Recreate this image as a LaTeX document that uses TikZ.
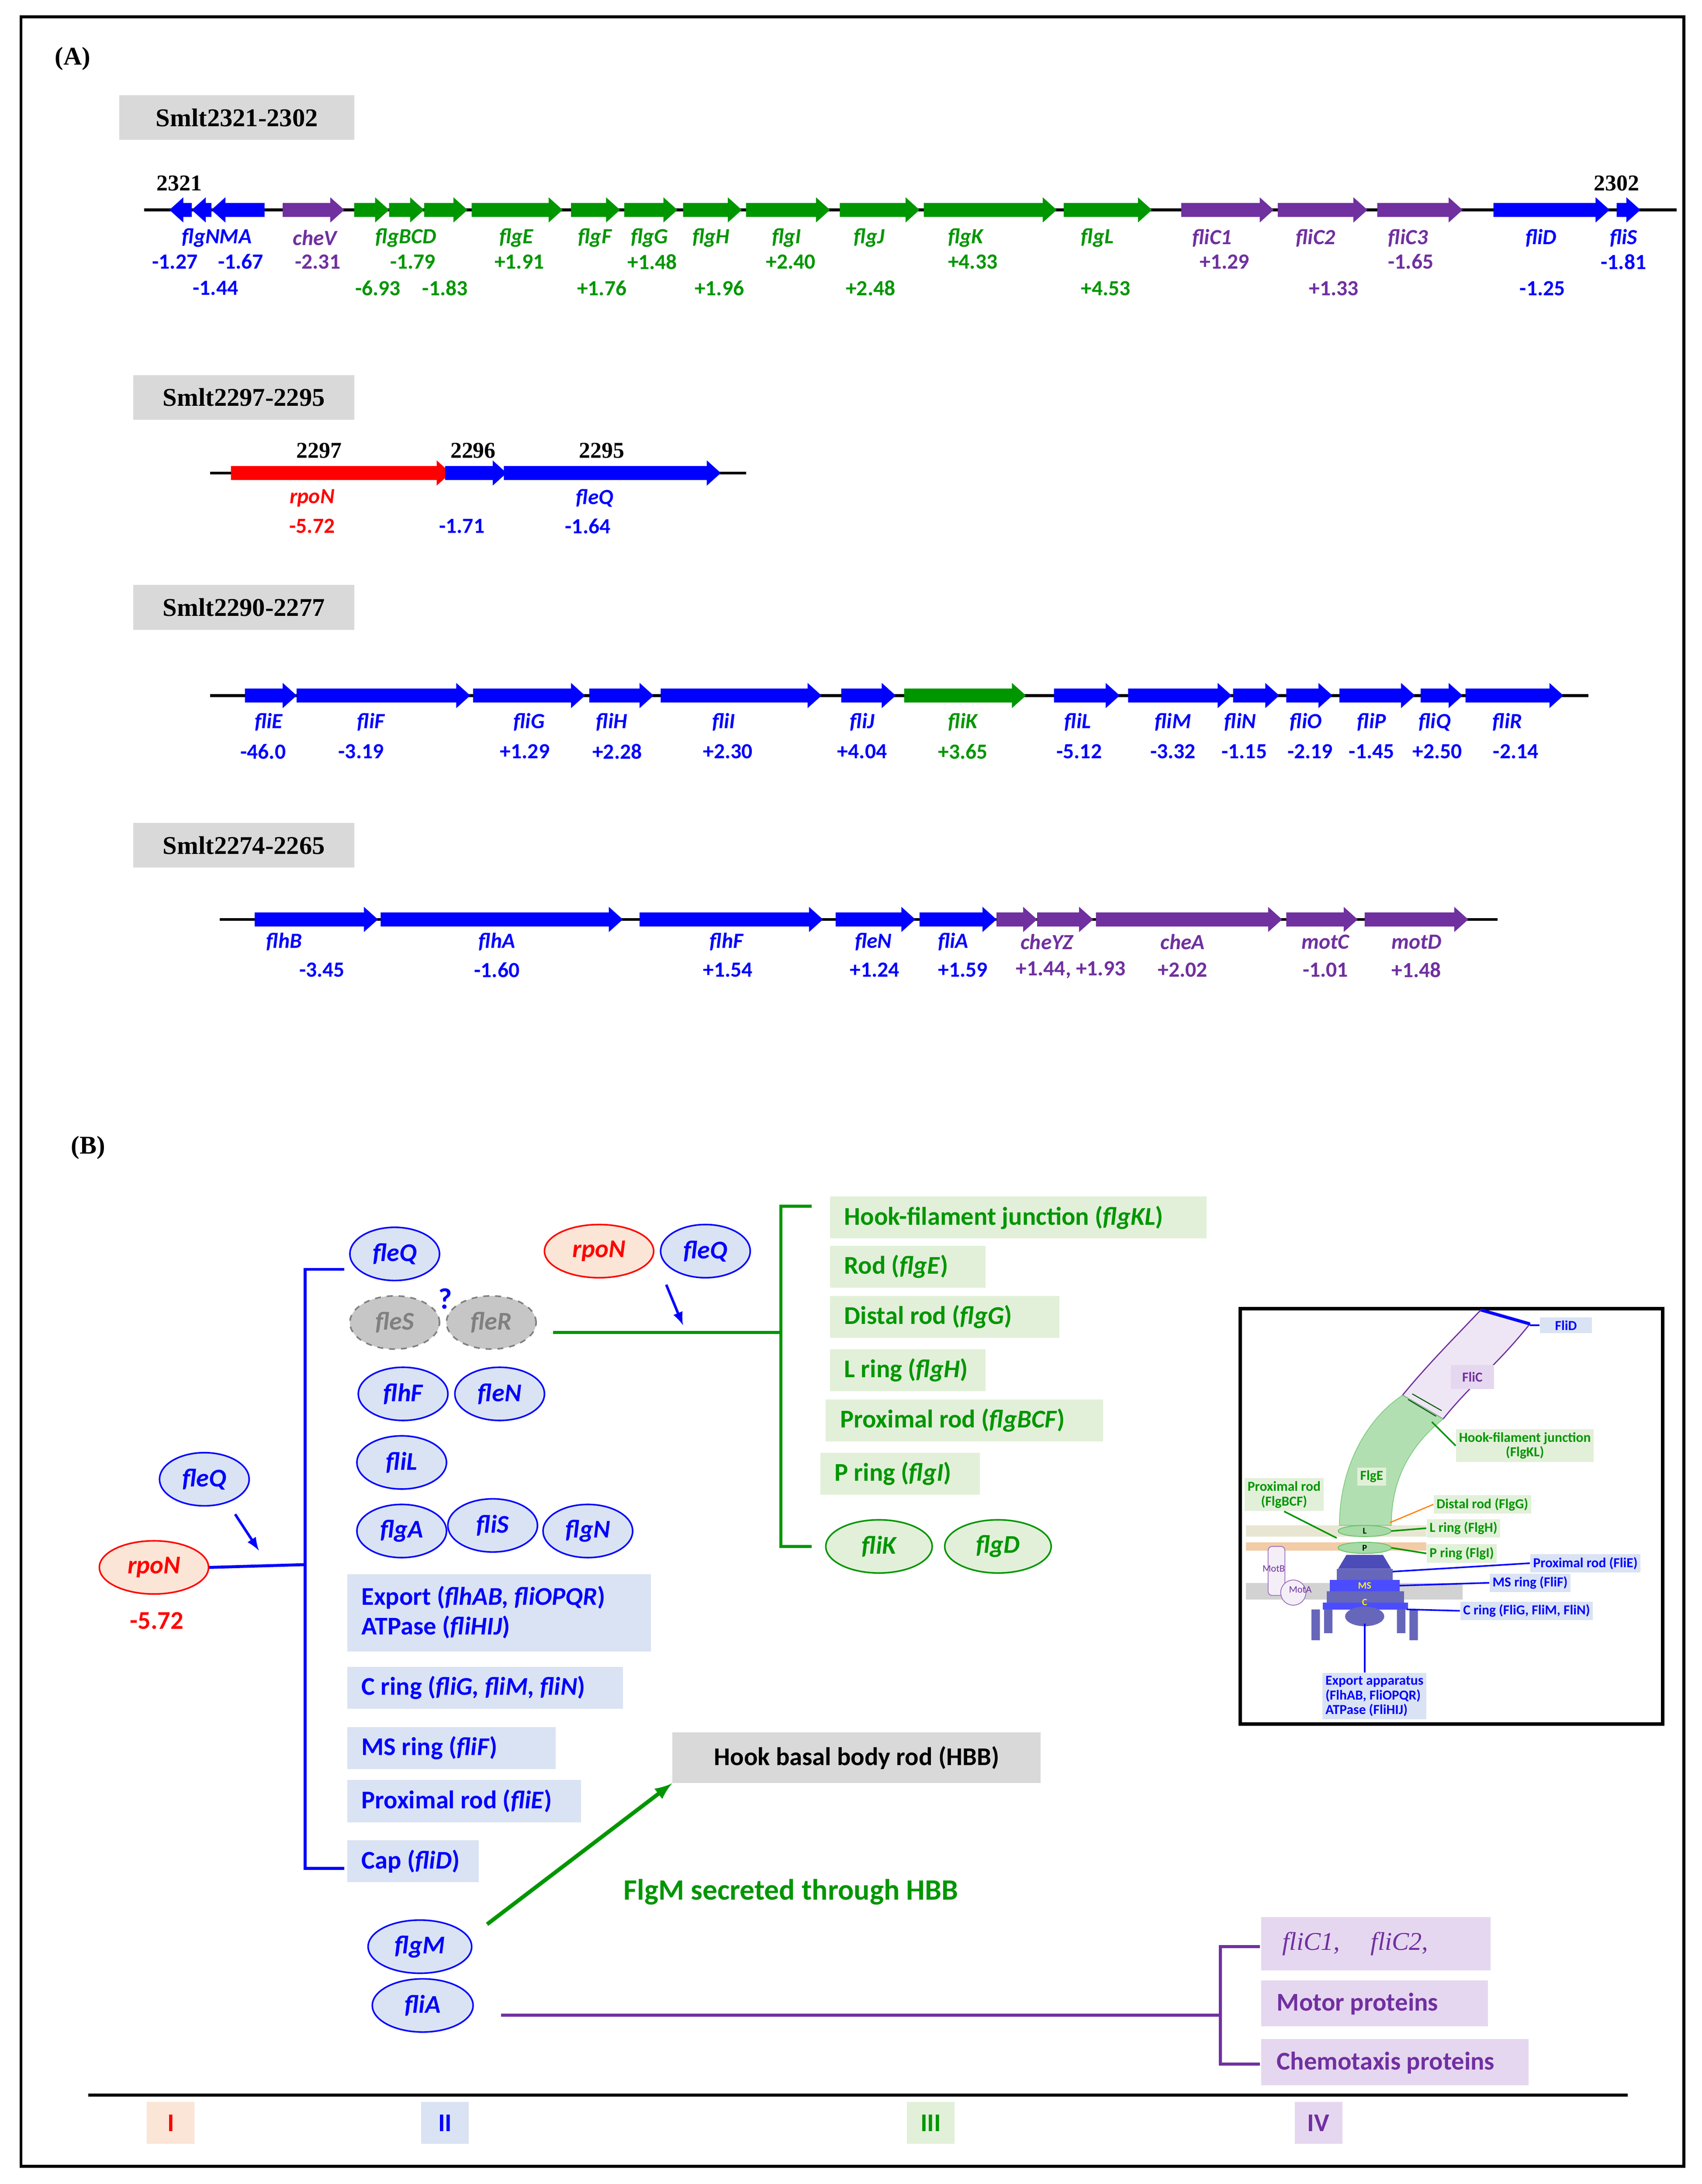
\documentclass[tikz,border=0pt]{standalone}
\usepackage{fontspec}
\usetikzlibrary{shapes.geometric}
\setmainfont{Carlito}
\newfontfamily\serifb{Liberation Serif}
\begin{document}
\begin{tikzpicture}[x=0.025cm,y=-0.025cm,
 hdr/.style={fill={rgb,255:red,217;green,217;blue,217},font=\serifb\fontsize{13}{14}\selectfont\bfseries,anchor=west,inner sep=0pt,minimum height=32*0.025cm},
 gl/.style={font=\fontsize{11}{12}\selectfont\bfseries\itshape},
 gv/.style={font=\fontsize{11}{12}\selectfont\bfseries},
 num/.style={font=\serifb\fontsize{11.5}{12}\selectfont\bfseries},
 bx/.style={font=\fontsize{13}{15}\selectfont\bfseries,anchor=west,inner sep=0pt,align=left},
 el/.style={ellipse,draw,line width=0.8pt,minimum width=64*0.025cm,minimum height=38*0.025cm,inner sep=0pt,font=\fontsize{13}{14}\selectfont\bfseries\itshape},
 tiny/.style={font=\fontsize{7}{7.5}\selectfont\bfseries,inner sep=1.5pt,align=center}]
\definecolor{B}{RGB}{0,0,255}\definecolor{G}{RGB}{0,150,0}\definecolor{P}{RGB}{112,48,160}\definecolor{R}{RGB}{255,0,0}
\definecolor{lB}{RGB}{218,227,243}\definecolor{lG}{RGB}{226,240,217}\definecolor{lP}{RGB}{230,215,240}\definecolor{lR}{RGB}{251,229,214}\definecolor{gr}{RGB}{217,217,217}
\newcommand\gar[4]{\fill[#4] (#1,#3-5) -- ({#2-10},#3-5) -- ({#2-10},#3-9) -- (#2,#3) -- ({#2-10},#3+9) -- ({#2-10},#3+5) -- (#1,#3+5) -- cycle;}
\newcommand\gal[4]{\fill[#4] (#2,#3-5) -- ({#1+10},#3-5) -- ({#1+10},#3-9) -- (#1,#3) -- ({#1+10},#3+9) -- ({#1+10},#3+5) -- (#2,#3+5) -- cycle;}
\useasboundingbox (0,0) rectangle (1216,1560.6);
\fill[white] (0,0) rectangle (1216,1560.6);
\draw[line width=1.5pt] (15,12) rectangle (1203,1548);
\node[font=\serifb\fontsize{13}{14}\selectfont\bfseries] at (52,42) {(A)};
% ---- row 1
\node[hdr,minimum width=168*0.025cm] at (85,84) {\hspace{0pt}\hfill Smlt2321-2302\hfill};
\draw[line width=1.4pt] (103,150) -- (1198,150);
\gal{121}{137}{150}{B}\gal{137}{151}{150}{B}\gal{151}{189}{150}{B}
\gar{202}{246}{150}{P}
\foreach \a/\b in {253/278,278/303,303/334,337/402,408/443,446/484,488/530,533/593,600/657,660/755,760/823}{\gar{\a}{\b}{150}{G}}
\foreach \a/\b in {844/910,913/977,984/1045}{\gar{\a}{\b}{150}{P}}
\gar{1067}{1150}{150}{B}\gar{1155}{1172}{150}{B}
\node[num] at (128,131) {2321};\node[num] at (1155,131) {2302};
\foreach \x/\t/\c in {155/flgNMA/B,225/cheV/P,290/flgBCD/G,369/flgE/G,425/flgF/G,464/flgG/G,508/flgH/G,562/flgI/G,621/flgJ/G,690/flgK/G,784/flgL/G,866/fliC1/P,940/fliC2/P,1006/fliC3/P,1101/fliD/B,1160/fliS/B}{\node[gl,text=\c] at (\x,170) {\t};}
\foreach \x/\t/\c in {125/-1.27/B,172/-1.67/B,227/-2.31/P,295/-1.79/G,371/+1.91/G,466/+1.48/G,565/+2.40/G,695/+4.33/G,875/+1.29/P,1008/-1.65/P,1160/-1.81/B}{\node[gv,text=\c] at (\x,187) {\t};}
\foreach \x/\t/\c in {154/-1.44/B,270/-6.93/G,318/-1.83/G,430/+1.76/G,514/+1.96/G,622/+2.48/G,790/+4.53/G,953/+1.33/P,1102/-1.25/B}{\node[gv,text=\c] at (\x,206) {\t};}
% ---- row 2
\node[hdr,minimum width=158*0.025cm] at (95,284) {\hspace{0pt}\hfill Smlt2297-2295\hfill};
\draw[line width=1.4pt] (150,338) -- (533,338);
\gar{165}{322}{338}{R}\gar{318}{362}{338}{B}\gar{360}{515}{338}{B}
\node[num] at (228,322) {2297};\node[num] at (338,322) {2296};\node[num] at (430,322) {2295};
\node[gl,text=R] at (223,356) {rpoN};\node[gl,text=B] at (425,356) {fleQ};
\node[gv,text=R] at (223,376) {-5.72};\node[gv,text=B] at (330,376) {-1.71};\node[gv,text=B] at (420,376) {-1.64};
% ---- row 3
\node[hdr,minimum width=158*0.025cm] at (95,434) {\hspace{0pt}\hfill Smlt2290-2277\hfill};
\draw[line width=1.4pt] (150,497) -- (1135,497);
\foreach \a/\b in {175/212,212/336,338/418,421/467,472/587,601/640,753/800,806/880,881/914,919/952,957/1011,1015/1045,1047/1117}{\gar{\a}{\b}{497}{B}}
\gar{646}{733}{497}{G}
\foreach \x/\t/\v/\vx in {192/fliE/-46.0/188,265/fliF/-3.19/258,378/fliG/+1.29/375,437/fliH/+2.28/441,517/fliI/+2.30/520,616/fliJ/+4.04/616,770/fliL/-5.12/771,838/fliM/-3.32/838,886/fliN/-1.15/889,933/fliO/-2.19/936,980/fliP/-1.45/980,1025/fliQ/+2.50/1027,1077/fliR/-2.14/1083}{\node[gl,text=B] at (\x,516) {\t};\node[gv,text=B] at (\vx,537) {\v};}
\node[gl,text=G] at (688,516) {fliK};\node[gv,text=G] at (688,537) {+3.65};
% ---- row 4
\node[hdr,minimum width=158*0.025cm] at (95,604) {\hspace{0pt}\hfill Smlt2274-2265\hfill};
\draw[line width=1.4pt] (157,657) -- (1070,657);
\foreach \a/\b in {182/270,272/445,457/588,597/654,657/712}{\gar{\a}{\b}{657}{B}}
\foreach \a/\b in {712/741,741/781,783/916,919/970,975/1049}{\gar{\a}{\b}{657}{P}}
\foreach \x/\t/\v/\vx in {203/flhB/-3.45/230,355/flhA/-1.60/355,519/flhF/+1.54/520,624/fleN/+1.24/625,681/fliA/+1.59/688}{\node[gl,text=B] at (\x,673) {\t};\node[gv,text=B] at (\vx,693) {\v};}
\foreach \x/\t/\v/\vx in {748/cheYZ/{+1.44, +1.93}/765,845/cheA/+2.02/845,947/motC/-1.01/947,1012/motD/+1.48/1012}{\node[gl,text=P] at (\x,673) {\t};\node[gv,text=P] at (\vx,693) {\v};}
% ================= (B)
\node[font=\serifb\fontsize{13}{14}\selectfont\bfseries] at (63,820) {(B)};
\node[el,draw=B,fill=lB,text=B] (q1) at (282,896) {fleQ};
\node[el,draw=gray,dashed,fill=gray!45,text=gray] (fS) at (282,945) {fleS};
\node[el,draw=gray,dashed,fill=gray!45,text=gray] (fR) at (351,945) {fleR};
\node[text=B,font=\fontsize{15}{16}\selectfont\bfseries] (qm) at (318,928) {?};
\node[el,draw=B,fill=lB,text=B] (fhF) at (288,996) {flhF};
\node[el,draw=B,fill=lB,text=B] (fN) at (357,996) {fleN};
\node[el,draw=B,fill=lB,text=B] (fL) at (287,1045) {fliL};
\node[el,draw=B,fill=lB,text=B] (fA) at (287,1094) {flgA};
\node[el,draw=B,fill=lB,text=B] (fS2) at (352,1090) {fliS};
\node[el,draw=B,fill=lB,text=B] (fgN) at (420,1094) {flgN};
\node[el,draw=R,fill=lR,text=R,minimum width=78*0.025cm] (r2) at (428,894) {rpoN};
\node[el,draw=B,fill=lB,text=B] (q2) at (504,894) {fleQ};
\node[el,draw=B,fill=lB,text=B] (q0) at (146,1057) {fleQ};
\node[el,draw=R,fill=lR,text=R,minimum width=78*0.025cm] (r0) at (110,1120) {rpoN};
\node[text=R,font=\fontsize{13}{14}\selectfont\bfseries] at (112,1158) {-5.72};
\coordinate (a0) at (168,1082);\coordinate (a1) at (185,1108);
\draw[B,line width=1.3pt,-latex] (a0) -- (a1);
\draw[B,line width=1.5pt] (246,907) -- (218,907) -- (218,1335) -- (246,1335);
\draw[B,line width=1.5pt] (r0.east) -- (218,1118);
\fill[lB] (248,1125) rectangle (465,1180);
\fill[lB] (248,1191) rectangle (445,1221);
\fill[lB] (248,1234) rectangle (397,1264);
\fill[lB] (248,1272) rectangle (415,1302);
\fill[lB] (248,1315) rectangle (342,1345);
\node[bx,text=B] (e1) at (258,1152) {Export (\textit{flhAB, fliOPQR})\\ATPase (\textit{fliHIJ})};
\node[bx,text=B] (e2) at (258,1206) {C ring (\textit{fliG, fliM, fliN})};
\node[bx,text=B] (e3) at (258,1249) {MS ring (\textit{fliF})};
\node[bx,text=B] (e4) at (258,1287) {Proximal rod (\textit{fliE})};
\node[bx,text=B] (e5) at (258,1330) {Cap (\textit{fliD})};
% green branch
\coordinate (gs) at (395,952);\coordinate (gb) at (558,952);
\draw[G,line width=1.5pt] (gs) -- (gb);
\draw[G,line width=1.5pt] (580,862) -- (558,862) -- (558,1105) -- (580,1105);
\coordinate (b0) at (476,918);\coordinate (b1) at (488,947);
\draw[B,line width=1.3pt,-latex] (b0) -- (b1);
\foreach \x/\y/\w in {593/870/269,593/905/111,593/941/164,593/979/111,590/1015/198,586/1053/114}{\fill[lG] (\x,\y-15) rectangle ++(\w,30);}
\node[bx,text=G] (h1) at (603,870) {Hook-filament junction (\textit{flgKL})};
\node[bx,text=G] (h2) at (603,905) {Rod (\textit{flgE})};
\node[bx,text=G] (h3) at (603,941) {Distal rod (\textit{flgG})};
\node[bx,text=G] (h4) at (603,979) {L ring (\textit{flgH})};
\node[bx,text=G] (h5) at (600,1015) {Proximal rod (\textit{flgBCF})};
\node[bx,text=G] (h6) at (596,1053) {P ring (\textit{flgI})};
\node[el,draw=G,fill=lG,text=G,minimum width=76*0.025cm] (fK) at (628,1105) {fliK};
\node[el,draw=G,fill=lG,text=G,minimum width=76*0.025cm] (fD) at (713,1105) {flgD};
% HBB
\node[fill=gr,bx,anchor=center,minimum width=263*0.025cm,minimum height=36*0.025cm,align=center] (hbb) at (612,1256) {Hook basal body rod (HBB)};
\node[el,draw=B,fill=lB,text=B,minimum width=74*0.025cm] (fM) at (300,1391) {flgM};
\node[el,draw=B,fill=lB,text=B,minimum width=72*0.025cm] (fiA) at (302,1433) {fliA};
\coordinate (m0) at (348,1375);
\draw[G,line width=2pt,-latex] (m0) -- (hbb.south west);
\node[text=G,font=\fontsize{15}{16}\selectfont\bfseries] at (565,1352) {FlgM secreted through HBB};
\draw[P,line width=1.5pt] (358,1440) -- (872,1440);
\draw[P,line width=1.5pt] (900,1391) -- (872,1391) -- (872,1475) -- (900,1475);
\fill[lP] (901,1370) rectangle (1065,1408);\fill[lP] (901,1415) rectangle (1063,1448);\fill[lP] (901,1457) rectangle (1092,1490);
\node[bx,text=P,font=\serifb\fontsize{13}{14}\selectfont\itshape] (p1) at (916,1389) {fliC1,\hspace{1.2em}fliC2,};
\node[bx,text=P] (p2) at (912,1432) {Motor proteins};
\node[bx,text=P] (p3) at (912,1474) {Chemotaxis proteins};
% bottom scale
\draw[line width=1.5pt] (63,1497) -- (1163,1497);
\foreach \x/\t/\c/\f in {122/I/R/lR,318/II/B/lB,665/III/G/lG,942/IV/P/lP}{\node[fill=\f,text=\c,font=\fontsize{13}{14}\selectfont\bfseries,minimum height=30*0.025cm,minimum width=34*0.025cm] at (\x,1517) {\t};}
% ===== inset
\draw[line width=1.8pt] (886,935) rectangle (1188,1232);
\fill[yellow!30!gray!30] (890,1090) rectangle (1019,1098);
\fill[orange!50!brown!40] (890,1102) rectangle (1019,1108);
\fill[gray!35] (890,1131) rectangle (1045,1143);
\fill[P!12,draw=P,line width=0.6pt] (1058,936) -- (1093,946) .. controls (1070,975) and (1050,990) .. (1031,1014) -- (1002,997) .. controls (1020,975) and (1040,955) .. (1058,936) -- cycle;
\draw[B,line width=1.6pt] (1058,936) -- (1093,946);
\fill[G!30,draw=G!50,line width=0.4pt] (1002,997) -- (1031,1014) .. controls (1005,1035) and (994,1060) .. (994,1090) -- (957,1090) .. controls (957,1050) and (975,1015) .. (1002,997) -- cycle;
\draw[G!60!black,line width=0.5pt] (1006,1000) -- (1026,1012) (1009,996) -- (1030,1008);
\foreach \y in {1094,1106}{\fill[G!35,draw=G!60] (975,\y) ellipse (19 and 4);}
\fill[B!60!black!70] (962,1111) -- (988,1111) -- (994,1121) -- (956,1121) -- cycle;
\fill[B!55!black!60] (955,1121) rectangle (995,1129);
\fill[B!70] (950,1129) rectangle (1000,1137);
\fill[B!55!black!60] (948,1137) rectangle (1003,1145);
\fill[B!70] (945,1145) rectangle (1006,1150);
\fill[B!55!black!60] (937,1150) rectangle (943,1172) (1007,1150) rectangle (1013,1172) (946,1150) rectangle (952,1167) (998,1150) rectangle (1004,1167);
\fill[B!55!black!60] (975,1155) ellipse (14 and 7);
\node[text=yellow,tiny,font=\fontsize{5}{5}\selectfont\bfseries] at (975,1133) {MS};\node[text=yellow,tiny,font=\fontsize{5}{5}\selectfont\bfseries] at (975,1145) {C};
\node[tiny,text=black,font=\fontsize{4.5}{5}\selectfont\bfseries] at (975,1094) {L};\node[tiny,text=black,font=\fontsize{4.5}{5}\selectfont\bfseries] at (975,1106) {P};
\draw[P!70,fill=P!8,rounded corners=2pt] (906,1105) rectangle (918,1140);
\draw[P!70,fill=P!8] (924,1138) circle (9);
\node[tiny,text=P,font=\fontsize{5}{5}\selectfont] at (910,1121) {MotB};\node[tiny,text=P,font=\fontsize{5}{5}\selectfont] at (929,1136) {MotA};
\node[tiny,fill=lB,text=B,anchor=west,minimum width=37*0.025cm] (iD) at (1100,947) {FliD};
\node[tiny,fill=lP,text=P,minimum width=31*0.025cm,minimum height=17*0.025cm] (iC) at (1052,984) {FliC};
\node[tiny,fill=lG,text=G,anchor=west] (iH) at (1040,1033) {Hook-filament junction\\(FlgKL)};
\node[tiny,fill=lG,text=G] (iE) at (980,1055) {FlgE};
\node[tiny,fill=lG,text=G,anchor=west] (iP) at (889,1068) {Proximal rod\\(FlgBCF)};
\node[tiny,fill=lG,text=G,anchor=west] (iDr) at (1024,1075) {Distal rod (FlgG)};
\node[tiny,fill=lG,text=G,anchor=west] (iL) at (1019,1092) {L ring (FlgH)};
\node[tiny,fill=lG,text=G,anchor=west] (iPr) at (1019,1110) {P ring (FlgI)};
\node[tiny,fill=lB,text=B,anchor=west] (iFE) at (1093,1117) {Proximal rod (FliE)};
\node[tiny,fill=lB,text=B,anchor=west] (iF) at (1064,1131) {MS ring (FliF)};
\node[tiny,fill=lB,text=B,anchor=west] (iCr) at (1043,1151) {C ring (FliG, FliM, FliN)};
\node[tiny,fill=lB,text=B,align=left] (iX) at (982,1212) {Export apparatus\\(FlhAB, FliOPQR)\\ATPase (FliHIJ)};
\coordinate (cD) at (1093,947);\draw[B,line width=0.8pt] (cD) -- (iD.west);
\coordinate (cH) at (1023,1016);\draw[G,line width=0.8pt] (cH) -- (iH.west);
\coordinate (cP) at (955,1099);\draw[G,line width=0.8pt] (iP.south) -- (cP);
\coordinate (cDr) at (993,1088);\draw[orange,line width=0.6pt] (cDr) -- (iDr.west);
\coordinate (cL) at (994,1094);\draw[G,line width=0.8pt] (cL) -- (iL.west);
\coordinate (cPr) at (994,1106);\draw[G,line width=0.8pt] (cPr) -- (iPr.west);
\coordinate (cFE) at (995,1123);\draw[B,line width=0.8pt] (cFE) -- (iFE.west);
\coordinate (cF) at (1000,1133);\draw[B,line width=0.8pt] (cF) -- (iF.west);
\coordinate (cC) at (1005,1150);\draw[B,line width=0.8pt] (cC) -- (iCr.west);
\coordinate (cX) at (975,1160);\draw[B,line width=0.8pt] (cX) -- (iX.north -| cX);
\end{tikzpicture}
\end{document}
